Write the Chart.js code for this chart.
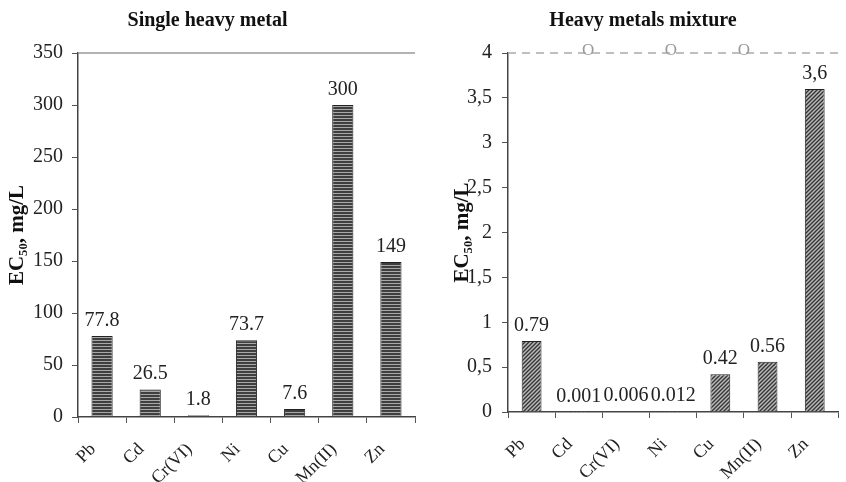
<!DOCTYPE html>
<html>
<head>
<meta charset="utf-8">
<script src="https://cdn.jsdelivr.net/npm/chart.js@4.4.1/dist/chart.umd.min.js"></script>
<style>
  html, body { margin: 0; padding: 0; background: #fff; }
  #izq, #der { position: absolute; top: 0; width: 423px; height: 482px; }
  #izq { left: 0; }
  #der { left: 423px; }
</style>
</head>
<body>
<div id="izq"><canvas id="graficoSolo"></canvas></div>
<div id="der"><canvas id="graficoMezcla"></canvas></div>
<script>
const metales = ["Pb", "Cd", "Cr(VI)", "Ni", "Cu", "Mn(II)", "Zn"];

const ecSolo = [77.8, 26.5, 1.8, 73.7, 7.6, 300, 149];
const textosSolo = ["77.8", "26.5", "1.8", "73.7", "7.6", "300", "149"];
const ticksSolo = [0, 50, 100, 150, 200, 250, 300, 350];
const ticksSoloTexto = ["0", "50", "100", "150", "200", "250", "300", "350"];

const ecMezcla = [0.79, 0.001, 0.006, 0.012, 0.42, 0.56, 3.6];
const textosMezcla = ["0.79", "0.001", "0.006", "0.012", "0.42", "0.56", "3,6"];
const ticksMezcla = [0, 0.5, 1, 1.5, 2, 2.5, 3, 3.5, 4];
const ticksMezclaTexto = ["0", "0,5", "1", "1,5", "2", "2,5", "3", "3,5", "4"];

// las "o" grises sobre la linea de 4 (posicion en indice de categoria)
const marcasMezcla = ["O", "O", "O"];
const marcasMezclaEn = [1.2, 2.95, 4.5];

const fuente = "'Liberation Serif', 'Times New Roman', serif";

function patronHorizontal() {
  const c = document.createElement("canvas");
  c.width = 4;
  c.height = 3;
  const g = c.getContext("2d");
  g.fillStyle = "#3f3f3f";
  g.fillRect(0, 0, 4, 3);
  g.fillStyle = "#a8a8a8";
  g.fillRect(0, 1, 4, 1);
  return g.createPattern(c, "repeat");
}

function patronDiagonal() {
  const c = document.createElement("canvas");
  c.width = 4;
  c.height = 4;
  const g = c.getContext("2d");
  g.fillStyle = "#b8b8b8";
  g.fillRect(0, 0, 4, 4);
  g.strokeStyle = "#333";
  g.lineWidth = 1.3;
  g.beginPath();
  g.moveTo(0, 4); g.lineTo(4, 0);
  g.moveTo(-1, 1); g.lineTo(1, -1);
  g.moveTo(3, 5); g.lineTo(5, 3);
  g.stroke();
  return g.createPattern(c, "repeat");
}

// valores encima de cada barra
const etiquetasBarras = {
  id: "etiquetasBarras",
  afterDatasetsDraw(chart, args, opts) {
    const ctx = chart.ctx;
    const meta = chart.getDatasetMeta(0);
    ctx.save();
    ctx.font = "20px " + fuente;
    ctx.fillStyle = "#222";
    ctx.textAlign = "center";
    ctx.textBaseline = "alphabetic";
    meta.data.forEach(function (barra, i) {
      ctx.fillText(opts.textos[i], barra.x, barra.y - 10);
    });
    ctx.restore();
  },
};

// linea de arriba (en el maximo del eje y) y marcas grises
const lineaSuperior = {
  id: "lineaSuperior",
  beforeDatasetsDraw(chart, args, opts) {
    const ctx = chart.ctx;
    const y = chart.scales.y.getPixelForValue(chart.scales.y.max);
    ctx.save();
    ctx.strokeStyle = opts.color;
    ctx.lineWidth = 1.5;
    ctx.setLineDash(opts.dash || []);
    ctx.beginPath();
    ctx.moveTo(chart.chartArea.left, y);
    ctx.lineTo(chart.chartArea.right, y);
    ctx.stroke();
    ctx.setLineDash([]);
    if (opts.marcas) {
      ctx.font = "17px " + fuente;
      ctx.fillStyle = "#999";
      ctx.textAlign = "center";
      ctx.textBaseline = "alphabetic";
      opts.marcas.forEach(function (m, i) {
        ctx.fillText(m, chart.scales.x.getPixelForValue(opts.marcasEn[i]), y + 2);
      });
    }
    ctx.restore();
  },
};

function crearGrafico(id, cfg) {
  return new Chart(document.getElementById(id).getContext("2d"), {
    type: "bar",
    data: {
      labels: metales,
      datasets: [
        {
          data: cfg.datos,
          backgroundColor: cfg.patron,
          borderColor: "#222",
          borderWidth: 1,
          barPercentage: cfg.ancho,
          categoryPercentage: 1,
        },
      ],
    },
    plugins: [etiquetasBarras, lineaSuperior],
    options: {
      responsive: true,
      maintainAspectRatio: false,
      animation: false,
      layout: { padding: cfg.relleno },
      plugins: {
        legend: { display: false },
        tooltip: { enabled: false },
        title: {
          display: true,
          text: cfg.titulo,
          color: "#111",
          font: { family: fuente, size: 20, weight: "bold" },
          padding: { top: 9, bottom: 20 },
        },
        etiquetasBarras: { textos: cfg.textos },
        lineaSuperior: {
          color: cfg.colorLinea,
          dash: cfg.guiones,
          marcas: cfg.marcas,
          marcasEn: cfg.marcasEn,
        },
      },
      scales: {
        x: {
          grid: {
            display: true,
            drawOnChartArea: false,
            offset: true,
            tickLength: 6,
            color: "#555",
          },
          border: { color: "#444", width: 1.5 },
          ticks: {
            minRotation: 45,
            maxRotation: 45,
            padding: 16,
            labelOffset: -9,
            color: "#222",
            font: { family: fuente, size: 18 },
          },
          afterFit: function (s) {
            s.height = cfg.altoX;
          },
        },
        y: {
          min: cfg.ticks[0],
          max: cfg.ticks[cfg.ticks.length - 1],
          afterBuildTicks: function (s) {
            s.ticks = cfg.ticks.map((v) => ({ value: v }));
          },
          grid: {
            display: true,
            drawOnChartArea: false,
            tickLength: 6,
            color: "#555",
          },
          border: { color: "#444", width: 1.5 },
          ticks: {
            padding: cfg.padTicks,
            color: "#222",
            font: { family: fuente, size: 20 },
            callback: (v, i) => cfg.ticksTexto[i],
          },
          title: {
            display: true,
            text: "EC₅₀, mg/L",
            color: "#111",
            font: { family: fuente, size: 21, weight: "bold" },
            padding: { top: cfg.padTitulo, bottom: 0 },
          },
          afterFit: function (s) {
            s.width = cfg.anchoY;
          },
        },
      },
    },
  });
}

crearGrafico("graficoSolo", {
  datos: ecSolo,
  textos: textosSolo,
  titulo: "Single heavy metal",
  patron: patronHorizontal(),
  ancho: 0.44,
  ticks: ticksSolo,
  ticksTexto: ticksSoloTexto,
  relleno: { left: 0, right: 8, top: 0, bottom: 0 },
  anchoY: 78,
  altoX: 65,
  padTicks: 9,
  padTitulo: 5,
  colorLinea: "#999",
  guiones: [],
});

crearGrafico("graficoMezcla", {
  datos: ecMezcla,
  textos: textosMezcla,
  titulo: "Heavy metals mixture",
  patron: patronDiagonal(),
  ancho: 0.42,
  ticks: ticksMezcla,
  ticksTexto: ticksMezclaTexto,
  relleno: { left: 17, right: 0, top: 0, bottom: 0 },
  anchoY: 68,
  altoX: 70,
  padTicks: 10,
  padTitulo: 10,
  colorLinea: "#aaa",
  guiones: [8, 6],
  marcas: marcasMezcla,
  marcasEn: marcasMezclaEn,
});
</script>
</body>
</html>
